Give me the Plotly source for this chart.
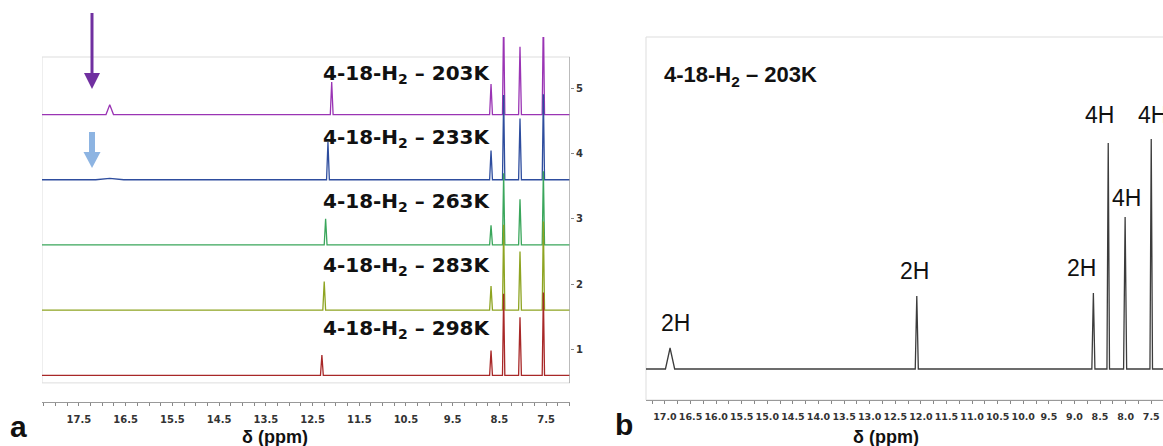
import plotly.graph_objects as go

# ---- data --------------------------------------------------------------
# panel a: stacked variable-temperature spectra (top -> bottom)
temps = ["203K", "233K", "263K", "283K", "298K"]
peak_ppm_a = [
    [16.84, 12.09, 8.68, 8.41, 8.06, 7.56],
    [16.84, 12.17, 8.68, 8.41, 8.06, 7.56],
    [12.22, 8.68, 8.41, 8.06, 7.56],
    [12.25, 8.68, 8.41, 8.06, 7.56],
    [12.30, 8.68, 8.41, 8.06, 7.56],
]
peak_height_a = [
    [0.15, 0.50, 0.47, 1.55, 1.04, 1.57],
    [0.02, 0.58, 0.45, 1.30, 0.94, 1.31],
    [0.40, 0.30, 1.10, 0.70, 1.13],
    [0.44, 0.37, 1.31, 0.90, 1.36],
    [0.31, 0.38, 1.25, 0.89, 1.27],
]
peak_halfwidth_a = [
    [0.08, 0.03, 0.03, 0.025, 0.03, 0.025],
    [0.30, 0.03, 0.03, 0.025, 0.03, 0.025],
    [0.03, 0.03, 0.025, 0.03, 0.025],
    [0.03, 0.03, 0.025, 0.03, 0.025],
    [0.03, 0.03, 0.025, 0.03, 0.025],
]

# panel b: 203K spectrum with integrations
peak_ppm_b = [16.90, 12.08, 8.63, 8.34, 8.01, 7.50]
peak_height_b = [21, 73, 76, 226, 152, 230]
peak_halfwidth_b = [0.09, 0.03, 0.03, 0.025, 0.03, 0.025]
integral_labels = ["2H", "2H", "2H", "4H", "4H", "4H"]
integral_ppm = [16.80, 12.13, 8.87, 8.52, 7.99, 7.48]
integral_y = [46, 98, 101, 254, 171, 254]

W, H = 1163, 446
XA = [18.29, 6.99]      # panel a ppm range
XB = [17.37, 7.27]      # panel b ppm range
trace_colors = ["#9A34B4", "#2E4D9E", "#3AA65B", "#8EA422", "#A82828"]
arrow_purple = "#7030A0"
arrow_blue = "#8DB4E2"


def px(x):
    return x / W


def py(y):
    return 1 - y / H


def stick_line(x_hi, x_lo, base, pos, heights, halfw):
    """Baseline with tent-shaped peaks, high ppm to low ppm."""
    xs, ys = [x_hi], [base]
    for p, h, w in sorted(zip(pos, heights, halfw), reverse=True):
        xs += [p + w, p, p - w]
        ys += [base, base + h, base]
    xs.append(x_lo)
    ys.append(base)
    return xs, ys


fig = go.Figure()

n = len(temps)
for i, (pos, hts, hw) in enumerate(zip(peak_ppm_a, peak_height_a, peak_halfwidth_a)):
    base = n - i - 0.4
    xs, ys = stick_line(XA[0], XA[1], base, pos, hts, hw)
    fig.add_trace(go.Scatter(x=xs, y=ys, mode="lines", xaxis="x", yaxis="y",
                             line=dict(color=trace_colors[i], width=1.3),
                             hoverinfo="skip", showlegend=False))

xs, ys = stick_line(XB[0], XB[1], 0, peak_ppm_b, peak_height_b, peak_halfwidth_b)
fig.add_trace(go.Scatter(x=xs, y=ys, mode="lines", xaxis="x2", yaxis="y2",
                         line=dict(color="#3C3C3C", width=1.3),
                         hoverinfo="skip", showlegend=False))


def xaxis_style(size):
    return dict(ticks="outside", ticklen=3, tickcolor="#888888", showline=True,
                linecolor="#999999", linewidth=1, showgrid=False, zeroline=False,
                tickformat=".1f", tickangle=0, ticklabelstandoff=5,
                tickfont=dict(family="DejaVu Sans", size=size, color="#333333",
                              weight="bold"),
                minor=dict(dtick=0.25, ticks="outside", ticklen=3,
                           tickcolor="#888888", showgrid=False))


fig.update_layout(
    width=W, height=H,
    margin=dict(l=0, r=0, t=0, b=0),
    plot_bgcolor="white", paper_bgcolor="white",
    showlegend=False,
    xaxis=dict(domain=[px(42), px(570)], range=XA, tick0=7.5, dtick=1,
               anchor="y", **xaxis_style(10)),
    yaxis=dict(domain=[py(402), py(37)], range=[0.19, 5.79], side="right",
               anchor="x", tickvals=[1, 2, 3, 4, 5], ticks="outside", ticklen=3,
               tickcolor="#888888", showgrid=False, zeroline=False,
               showline=False,
               tickfont=dict(family="DejaVu Sans", size=10, color="#333333",
                             weight="bold")),
    xaxis2=dict(domain=[px(646), 1], range=XB, tick0=7.5, dtick=0.5,
                anchor="y2", **xaxis_style(9.5)),
    yaxis2=dict(domain=[py(400), py(37)], range=[-31, 332], visible=False,
                anchor="x2"),
)

shapes = [
    # panel a frame and right axis line
    dict(type="rect", xref="x", yref="y", x0=XA[0], x1=XA[1], y0=0.483, y1=5.483,
         line=dict(color="#DDDDDD", width=1), layer="below"),
    dict(type="line", xref="x", yref="y", x0=XA[1], x1=XA[1], y0=0.483, y1=5.483,
         line=dict(color="#AAAAAA", width=1.5)),
    # panel b frame
    dict(type="rect", xref="paper", yref="paper", x0=px(646), x1=px(1180),
         y0=py(400), y1=py(37), line=dict(color="#DDDDDD", width=1), layer="below"),
    # purple arrow
    dict(type="rect", xref="paper", yref="paper", x0=px(90.5), x1=px(93.5),
         y0=py(74), y1=py(13), fillcolor=arrow_purple, line=dict(width=0)),
    dict(type="path", xref="paper", yref="paper",
         path=f"M {px(84)} {py(73)} L {px(100)} {py(73)} L {px(92)} {py(89)} Z",
         fillcolor=arrow_purple, line=dict(width=0)),
    # light blue arrow
    dict(type="rect", xref="paper", yref="paper", x0=px(89), x1=px(95),
         y0=py(152.5), y1=py(132), fillcolor=arrow_blue, line=dict(width=0)),
    dict(type="path", xref="paper", yref="paper",
         path=f"M {px(83.5)} {py(152)} L {px(100.5)} {py(152)} L {px(92)} {py(168)} Z",
         fillcolor=arrow_blue, line=dict(width=0)),
]
fig.update_layout(shapes=shapes)

label_font_a = dict(family="DejaVu Sans", size=20, color="#111111", weight="bold")
ann = []
label_y = [5.222, 4.241, 3.26, 2.278, 1.31]
for t, yv in zip(temps, label_y):
    ann.append(dict(xref="x", yref="y", x=8.63, y=yv, xanchor="right", yanchor="middle",
                    text=f"4-18-H<sub>2</sub> \u2013 {t}", showarrow=False,
                    font=label_font_a))

ann.append(dict(xref="x2", yref="y2", x=17.06, y=293, xanchor="left", yanchor="middle",
                text=f"4-18-H<sub>2</sub> \u2013 {temps[0]}", showarrow=False,
                font=dict(family="Liberation Sans", size=22, color="#111111",
                          weight="bold")))
for lab, xv, yv in zip(integral_labels, integral_ppm, integral_y):
    ann.append(dict(xref="x2", yref="y2", x=xv, y=yv, xanchor="center",
                    yanchor="middle", text=lab, showarrow=False,
                    font=dict(family="Liberation Sans", size=23, color="#111111")))

title_font = dict(family="Liberation Sans", size=18, color="#111111", weight="bold")
ann.append(dict(xref="paper", yref="paper", x=px(275), y=py(437), text="\u03b4 (ppm)",
                showarrow=False, xanchor="center", yanchor="middle", font=title_font))
ann.append(dict(xref="paper", yref="paper", x=px(886), y=py(437), text="\u03b4 (ppm)",
                showarrow=False, xanchor="center", yanchor="middle", font=title_font))
panel_font = dict(family="Liberation Sans", size=30, color="#111111", weight="bold")
ann.append(dict(xref="paper", yref="paper", x=px(18), y=py(426), text="a",
                showarrow=False, xanchor="center", yanchor="middle", font=panel_font))
ann.append(dict(xref="paper", yref="paper", x=px(624), y=py(424), text="b",
                showarrow=False, xanchor="center", yanchor="middle", font=panel_font))
fig.update_layout(annotations=ann)

# drop the page's default body margin so the figure sits at the window origin
fig.write_html("out.html",
               config={"displayModeBar": False},
               post_script="document.body.style.margin='0';"
                           "document.body.style.overflow='hidden';")
